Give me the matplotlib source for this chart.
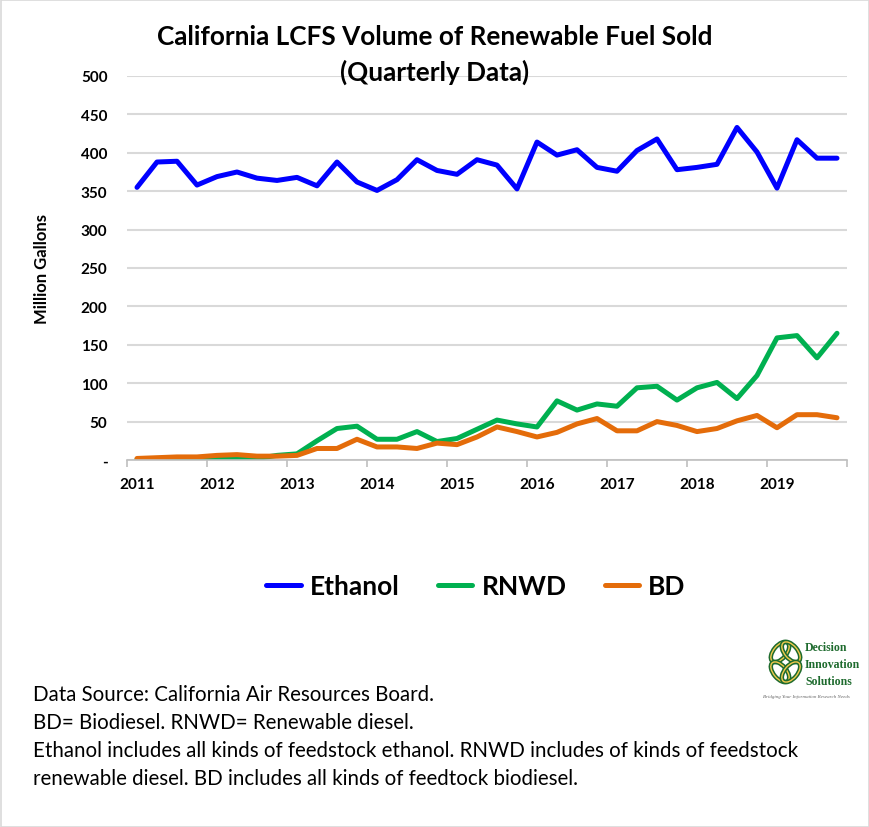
import matplotlib
matplotlib.use("Agg")
import matplotlib.pyplot as plt
from matplotlib.patches import Rectangle, Ellipse

plt.rcParams['font.family'] = ['Lato', 'DejaVu Sans']

years = ["2011", "2012", "2013", "2014", "2015", "2016", "2017", "2018", "2019"]
ethanol = [355, 388, 389, 358, 369, 375, 367, 364, 368, 357, 388, 362,
           351, 365, 391, 377, 372, 391, 384, 353, 414, 397, 404, 381,
           376, 403, 418, 378, 381, 385, 433, 401, 354, 417, 393, 393]
rnwd = [1, 1, 1, 2, 2, 3, 2, 6, 8, 25, 41, 44,
        27, 27, 37, 24, 28, 40, 52, 47, 43, 77, 65, 73,
        70, 94, 96, 78, 94, 101, 80, 110, 159, 162, 133, 165]
bd = [2, 3, 4, 4, 6, 7, 5, 5, 6, 15, 15, 27,
      17, 17, 15, 22, 20, 30, 43, 37, 30, 36, 47, 54,
      38, 38, 50, 45, 37, 41, 51, 58, 42, 59, 59, 55]
yticks = [0, 50, 100, 150, 200, 250, 300, 350, 400, 450, 500]
ytick_labels = ["-", "50", "100", "150", "200", "250", "300", "350", "400", "450", "500"]

W, H = 870, 828
fig = plt.figure(figsize=(W / 100, H / 100), dpi=100)
fig.patches.append(Rectangle((0.5 / W, 0.5 / H), 1 - 1.5 / W, 1 - 1.5 / H, transform=fig.transFigure,
                             fill=False, edgecolor='#D9D9D9', linewidth=1.2))

ax = fig.add_axes([127 / W, 1 - 461 / H, 720 / W, 384 / H])
x = list(range(len(ethanol)))
ax.plot(x, ethanol, color='#0000FF', lw=3.6, label='Ethanol', solid_joinstyle='round', solid_capstyle='round')
ax.plot(x, rnwd, color='#00B050', lw=3.6, label='RNWD', solid_joinstyle='round', solid_capstyle='round')
ax.plot(x, bd, color='#E46C0A', lw=3.6, label='BD', solid_joinstyle='round', solid_capstyle='round')

ax.set_xlim(-0.5, len(ethanol) - 0.5)
ax.set_ylim(0, 500)
ax.set_yticks(yticks)
ax.set_yticklabels(ytick_labels, fontsize=11, fontweight='bold')
ax.tick_params(axis='y', length=0, pad=14)
for lab in ax.get_yticklabels():
    lab.set_horizontalalignment('right')
ax.set_xticks([i * 4 - 0.5 for i in range(len(years) + 1)])
ax.set_xticklabels([])
ax.set_xticks([i * 4 for i in range(len(years))], minor=True)
ax.set_xticklabels(years, minor=True, fontsize=11, fontweight='bold')
ax.tick_params(axis='x', which='major', length=5, color='#BFBFBF', width=1.2)
ax.tick_params(axis='x', which='minor', length=0, pad=12)
ax.grid(axis='y', color='#D9D9D9', lw=1.5)
ax.set_axisbelow(True)
for s in ['top', 'right', 'left']:
    ax.spines[s].set_visible(False)
ax.spines['bottom'].set_color('#BFBFBF')
ax.spines['bottom'].set_linewidth(1.2)
ax.set_ylabel('Million Gallons', fontsize=12, fontweight='bold', labelpad=22)

fig.text(435 / W, 1 - 37 / H, 'California LCFS Volume of Renewable Fuel Sold', ha='center', va='center',
         fontsize=18.8, fontweight='bold')
fig.text(435 / W, 1 - 72 / H, '(Quarterly Data)', ha='center', va='center', fontsize=18.8, fontweight='bold')

fig.legend(loc='center', bbox_to_anchor=(476 / W, 1 - 587 / H), ncol=3, frameon=False,
           prop={'weight': 'bold', 'size': 19}, handlelength=1.3, columnspacing=1.45, handletextpad=0.35)

notes = ["Data Source: California Air Resources Board.",
         "BD= Biodiesel. RNWD= Renewable diesel.",
         "Ethanol includes all kinds of feedstock ethanol. RNWD includes of kinds of feedstock",
         "renewable diesel. BD includes all kinds of feedtock biodiesel."]
for k, t in enumerate(notes):
    fig.text(33 / W, 1 - (695 + 28 * k) / H, t, ha='left', va='center', fontsize=14.8)

# logo
lax = fig.add_axes([768 / W, 1 - 686 / H, 35 / W, 46 / H])
lax.set_xlim(0, 35)
lax.set_ylim(0, 46)
lax.axis('off')
for cx, cy, ang in [(12, 33, 50), (23, 33, -50), (12, 13, -50), (23, 13, 50)]:
    lax.add_patch(Ellipse((cx, cy), 24, 13, angle=ang, fill=False, edgecolor='#1E6B2E', lw=3.2))
    lax.add_patch(Ellipse((cx, cy), 24, 13, angle=ang, fill=False, edgecolor='#F2C94C', lw=1))
for k, t in enumerate(["Decision", "Innovation", "Solutions"]):
    fig.text(805 / W, 1 - (648 + 17 * k) / H, t, ha='left', va='center', fontsize=8.5,
             fontweight='bold', color='#1E6B2E', family='Liberation Serif')
fig.text(806 / W, 1 - 697 / H, 'Bridging Your Information Research Needs', ha='center', va='center',
         fontsize=3.6, style='italic', color='#666666', family='Liberation Serif')

fig.savefig('out.png', dpi=100)
